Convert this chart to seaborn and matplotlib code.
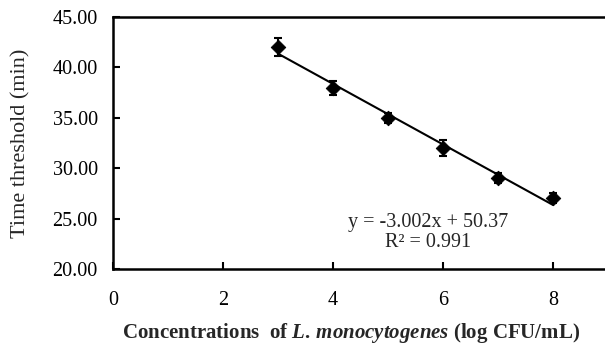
import matplotlib
matplotlib.use("Agg")
import matplotlib.pyplot as plt
import seaborn as sns
import numpy as np
import pandas as pd

conc = [3, 4, 5, 6, 7, 8]
tt = [42.0, 38.0, 35.0, 32.0, 29.0, 27.0]
err = [0.9, 0.7, 0.5, 0.8, 0.5, 0.5]
slope, intercept = -3.002, 50.37
xticks = [0, 2, 4, 6, 8]
yticks = [20, 25, 30, 35, 40, 45]

sns.set_theme(style="white")
plt.rcParams['font.family'] = ['Liberation Serif', 'DejaVu Serif']
plt.rcParams['mathtext.fontset'] = 'custom'
plt.rcParams['mathtext.rm'] = 'Liberation Serif:bold'
plt.rcParams['mathtext.it'] = 'Liberation Serif:italic:bold'
plt.rcParams['mathtext.bf'] = 'Liberation Serif:bold'

df = pd.DataFrame({"x": conc, "y": tt})

fig = plt.figure(figsize=(6.05, 3.44), dpi=100)
ax = fig.add_axes([113/605, 1 - 269/344, 495/605, (269-17)/344])

xl = np.array([conc[0], conc[-1]])
sns.lineplot(x=xl, y=slope*xl + intercept, ax=ax, color="black", lw=1.5)
ax.errorbar(conc, tt, yerr=err, fmt="none", ecolor="black", elinewidth=1.5, capsize=3, capthick=1.5)
sns.scatterplot(data=df, x="x", y="y", ax=ax, marker="D", s=55, color="black", edgecolor="black", zorder=5)

ax.set_xlim(0, 9)
ax.set_ylim(20, 45)
ax.set_xticks(xticks)
ax.set_yticks(yticks)
ax.set_yticklabels([f"{v:.2f}" for v in yticks], fontsize=14.5)
ax.set_xticklabels([str(v) for v in xticks], fontsize=14.5)
ax.tick_params(axis="both", direction="in", length=5, width=1.5, colors="black")
ax.tick_params(axis="y", left=True, pad=11)
ax.tick_params(axis="x", bottom=True, pad=16)
for s in ["left", "bottom", "top"]:
    ax.spines[s].set_visible(True)
    ax.spines[s].set_color("black")
    ax.spines[s].set_linewidth(1.8)
ax.spines["right"].set_visible(False)

ax.set_ylabel("Time threshold (min)", fontsize=16, va="center")
ax.yaxis.set_label_coords(-92/495, 0.5)
ax.set_xlabel(r"Concentrations  of $\mathit{L.\,monocytogenes}$ (log CFU/mL)", fontsize=15,
              fontweight="bold", va="center")
ax.xaxis.set_label_coords(0.481, -64/252)

ax.text(5.73, 24.66, "y = -3.002x + 50.37", ha="center", va="center", fontsize=14.5)
ax.text(5.73, 22.6, "R² = 0.991", ha="center", va="center", fontsize=14.5)

fig.savefig("out.png", dpi=100)
